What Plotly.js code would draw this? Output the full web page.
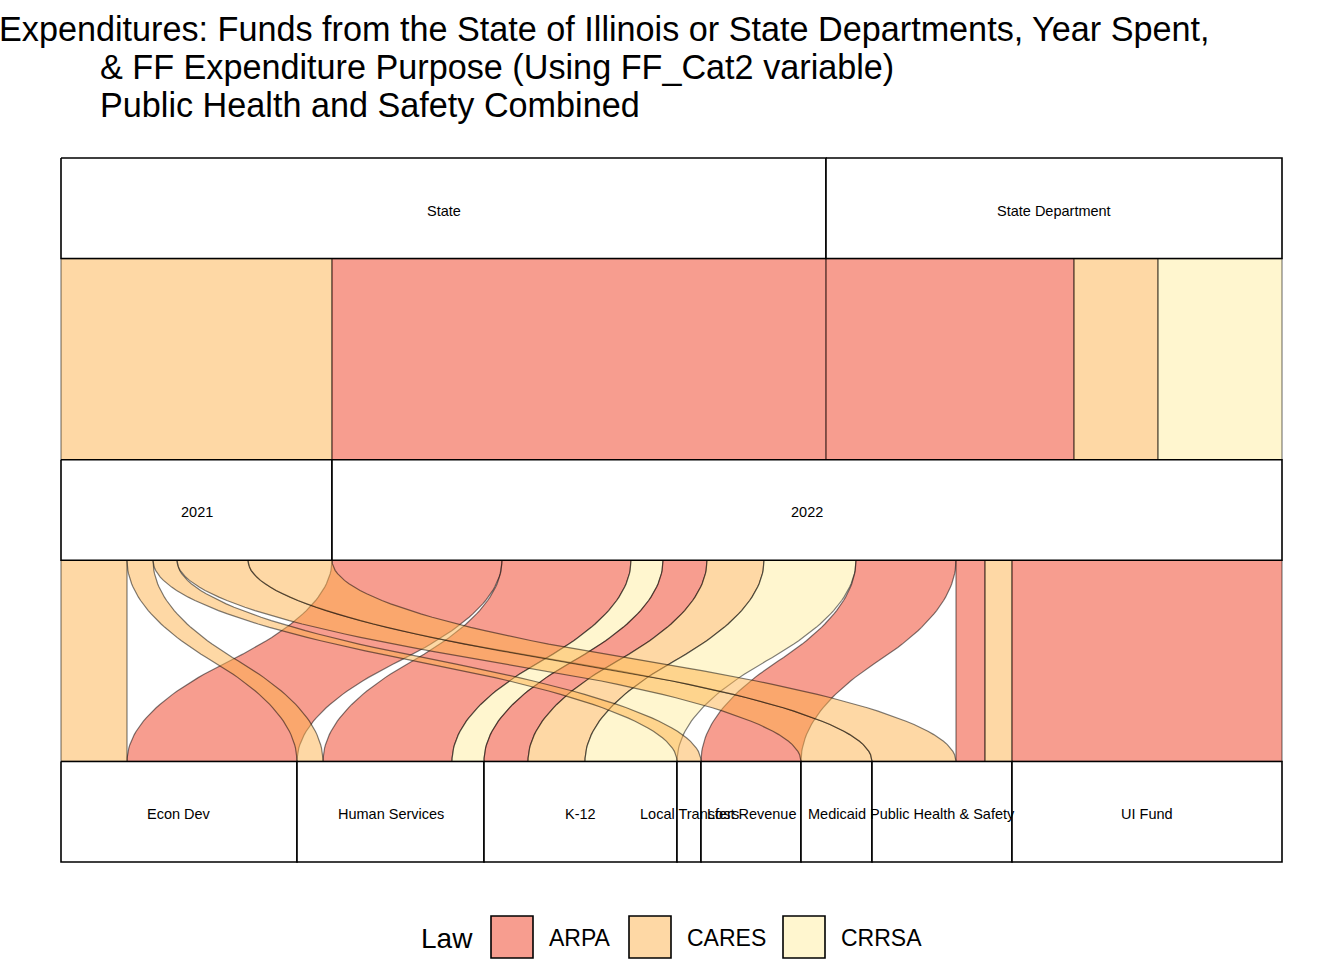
<!DOCTYPE html>
<html>
<head>
<meta charset="utf-8">
<script src="https://cdn.plot.ly/plotly-3.0.1.min.js"></script>
<style>html,body{margin:0;padding:0;background:#fff;}#chart{width:1344px;height:960px;}</style>
</head>
<body>
<div id="chart"></div>
<script>
// ---------------- DATA ----------------
const sources  = ["State", "State Department"];
const years    = ["2021", "2022"];
const purposes = ["Econ Dev", "Human Services", "K-12", "Local Transfers", "Lost Revenue",
                  "Medicaid", "Public Health & Safety", "UI Fund"];
const laws     = ["ARPA", "CARES", "CRRSA"];
const lawColors = ["#F03B20", "#FEB24C", "#FFEDA0"];

// Flows: Source -> Year Spent
const s1Source = ["State", "State", "State Department", "State Department", "State Department"];
const s1Year   = ["2021", "2022", "2022", "2022", "2022"];
const s1Law    = ["CARES", "ARPA", "ARPA", "CARES", "CRRSA"];
const s1Amount = [271, 494, 248, 84, 124];

// Flows: Year Spent -> FF Expenditure Purpose
const s2Year    = ["2022", "2022", "2022", "2022", "2022", "2022", "2022", "2022", "2022", "2022",
                   "2021", "2021", "2021", "2021", "2021"];
const s2Purpose = ["Econ Dev", "Human Services", "Human Services", "K-12", "K-12", "K-12",
                   "Lost Revenue", "Public Health & Safety", "Public Health & Safety", "UI Fund",
                   "Econ Dev", "Human Services", "Local Transfers", "Medicaid", "Public Health & Safety"];
const s2Law     = ["ARPA", "ARPA", "CRRSA", "ARPA", "CARES", "CRRSA",
                   "ARPA", "ARPA", "CARES", "ARPA",
                   "CARES", "CARES", "CARES", "CARES", "CARES"];
const s2Amount  = [170, 129, 32, 44, 57, 92, 100, 29, 27, 270, 66, 26, 24, 71, 84];

const titleLines = ["Expenditures: Funds from the State of Illinois or State Departments, Year Spent,",
                    "& FF Expenditure Purpose (Using FF_Cat2 variable)",
                    "Public Health and Safety Combined"];
const legendTitle = "Law";

// ---------------- LAYOUT GEOMETRY ----------------
const FONT = "Liberation Sans, Arial, Helvetica, sans-serif";
const total = s1Amount.reduce((a, b) => a + b, 0);
const axisLevels = [sources, years, purposes];
const halfW = 1 / 6;               // stratum half width (width 1/3)
const plotLpx = 61, plotRpx = 1282, plotTpx = 158, plotBpx = 862, padPx = 5;
const xPerPx = total / (plotRpx - plotLpx);
const yPerPx = (2 + 2 * halfW) / (plotBpx - plotTpx);
const L = plotLpx - padPx, R = 1344 - plotRpx - padPx, T = plotTpx - padPx, B = 960 - plotBpx - padPx;
const W = 1344 - L - R, H = 960 - T - B;
const px2x = px => (px - L) / W;
const py2y = py => (T + H - py) / H;

function strataStarts(levels, keys, amounts) {
  const tot = levels.map(l => 0);
  keys.forEach((k, i) => { tot[levels.indexOf(k)] += amounts[i]; });
  const start = []; let c = 0;
  tot.forEach((t, i) => { start.push(c); c += t; });
  return { start, tot };
}

function lodePositions(levels, keys, otherLevels, otherKeys, lawKeys, amounts) {
  const st = strataStarts(levels, keys, amounts);
  const idx = amounts.map((a, i) => i);
  idx.sort((i, j) => {
    const a = levels.indexOf(keys[i]) - levels.indexOf(keys[j]);
    if (a) return a;
    const b = otherLevels.indexOf(otherKeys[i]) - otherLevels.indexOf(otherKeys[j]);
    if (b) return b;
    return laws.indexOf(lawKeys[i]) - laws.indexOf(lawKeys[j]);
  });
  const pos = new Array(amounts.length);
  const cursor = st.start.slice();
  idx.forEach(i => {
    const s = levels.indexOf(keys[i]);
    pos[i] = [cursor[s], cursor[s] + amounts[i]];
    cursor[s] += amounts[i];
  });
  return pos;
}

function ease(s) { return s < 0.5 ? 2 * s * s : 1 - 2 * (1 - s) * (1 - s); }

function rgba(hex, a) {
  const r = parseInt(hex.slice(1, 3), 16), g = parseInt(hex.slice(3, 5), 16), b = parseInt(hex.slice(5, 7), 16);
  return `rgba(${r},${g},${b},${a})`;
}

const traces = [];
function flowTraces(fromLevels, fromKeys, toLevels, toKeys, lawKeys, amounts, yFrom, yTo) {
  const pFrom = lodePositions(fromLevels, fromKeys, toLevels, toKeys, lawKeys, amounts);
  const pTo = lodePositions(toLevels, toKeys, fromLevels, fromKeys, lawKeys, amounts);
  const N = 60;
  amounts.forEach((a, i) => {
    const xs = [], ys = [];
    for (let k = 0; k <= N; k++) {
      const s = k / N;
      xs.push(pFrom[i][0] + (pTo[i][0] - pFrom[i][0]) * ease(s));
      ys.push(yFrom + (yTo - yFrom) * s);
    }
    for (let k = N; k >= 0; k--) {
      const s = k / N;
      xs.push(pFrom[i][1] + (pTo[i][1] - pFrom[i][1]) * ease(s));
      ys.push(yFrom + (yTo - yFrom) * s);
    }
    xs.push(xs[0]); ys.push(ys[0]);
    traces.push({
      type: "scatter", mode: "lines", x: xs, y: ys, fill: "toself",
      fillcolor: rgba(lawColors[laws.indexOf(lawKeys[i])], 0.5),
      line: { color: "rgba(0,0,0,0.5)", width: 1.2 },
      hoverinfo: "skip", showlegend: false
    });
  });
}

flowTraces(sources, s1Source, years, s1Year, s1Law, s1Amount, 1 + halfW, 2 - halfW);
flowTraces(years, s2Year, purposes, s2Purpose, s2Law, s2Amount, 2 + halfW, 3 - halfW);

const annotations = [];
const strataKeys = [s1Source, s1Year, s2Purpose];
const strataAmounts = [s1Amount, s1Amount, s2Amount];
axisLevels.forEach((levels, ai) => {
  const st = strataStarts(levels, strataKeys[ai], strataAmounts[ai]);
  const yc = ai + 1;
  levels.forEach((lev, li) => {
    const x0 = st.start[li], x1 = st.start[li] + st.tot[li];
    traces.push({
      type: "scatter", mode: "lines",
      x: [x0, x1, x1, x0, x0], y: [yc - halfW, yc - halfW, yc + halfW, yc + halfW, yc - halfW],
      fill: "toself", fillcolor: "#ffffff", line: { color: "#000000", width: 1.6 },
      hoverinfo: "skip", showlegend: false
    });
    annotations.push({
      x: (x0 + x1) / 2, y: yc + 0.008, xref: "x", yref: "y", text: lev, showarrow: false,
      font: { family: FONT, size: 14.5, color: "#000" }, xanchor: "center", yanchor: "middle"
    });
  });
});

const titleX = [-3, 98, 98];
const titleY = [29, 67, 105];
titleLines.forEach((t, i) => {
  annotations.push({
    x: px2x(titleX[i]), y: py2y(titleY[i]), xref: "paper", yref: "paper", text: t, showarrow: false,
    xanchor: "left", yanchor: "middle", font: { family: FONT, size: 34.2, color: "#000" }
  });
});

const shapes = [];
annotations.push({
  x: px2x(419), y: py2y(938), xref: "paper", yref: "paper", text: legendTitle, showarrow: false,
  xanchor: "left", yanchor: "middle", font: { family: FONT, size: 28, color: "#000" }
});
const swatchX = [491, 629, 783];
laws.forEach((law, i) => {
  shapes.push({
    type: "rect", xref: "paper", yref: "paper",
    x0: px2x(swatchX[i]), x1: px2x(swatchX[i] + 42), y0: py2y(958), y1: py2y(916),
    fillcolor: rgba(lawColors[i], 0.5), line: { color: "#000", width: 1.6 }
  });
  annotations.push({
    x: px2x(swatchX[i] + 56), y: py2y(938), xref: "paper", yref: "paper", text: law, showarrow: false,
    xanchor: "left", yanchor: "middle", font: { family: FONT, size: 23, color: "#000" }
  });
});

const layout = {
  width: 1344, height: 960,
  margin: { l: L, r: R, t: T, b: B, pad: 0, autoexpand: false },
  paper_bgcolor: "#fff", plot_bgcolor: "#fff",
  showlegend: false,
  xaxis: { range: [-padPx * xPerPx, total + padPx * xPerPx], visible: false, fixedrange: true },
  yaxis: { range: [3 + halfW + padPx * yPerPx, 1 - halfW - padPx * yPerPx], visible: false, fixedrange: true },
  annotations, shapes
};
Plotly.newPlot("chart", traces, layout, { displayModeBar: false, staticPlot: true });
</script>
</body>
</html>
